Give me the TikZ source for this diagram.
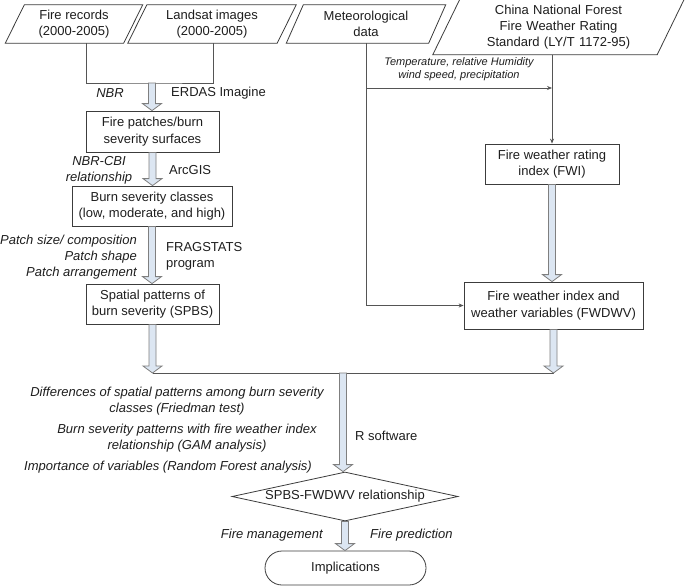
\documentclass[tikz,border=0pt]{standalone}
\usepackage{fontspec}
\setmainfont{Liberation Sans}
\usetikzlibrary{shapes.geometric,arrows.meta,calc}
\definecolor{boxline}{HTML}{3C3C3C}
\definecolor{connline}{HTML}{555555}
\definecolor{afill}{HTML}{DCE6F2}
\definecolor{aline}{HTML}{7F7F7F}
\definecolor{txt}{HTML}{1E1E1E}
\tikzset{
 base/.style={font=\fontsize{13}{16.5}\selectfont, text=txt, align=center, inner sep=0pt},
 box/.style={base, draw=boxline, line width=0.8pt, fill=white},
 para/.style={base},
 lab/.style={base, font=\fontsize{13}{16}\selectfont\itshape},
 plainlab/.style={base, font=\fontsize{13}{16}\selectfont},
 smalllab/.style={base, font=\fontsize{11}{12.5}\selectfont\itshape},
 conn/.style={draw=connline, line width=0.8pt},
 tip/.style={-{Stealth[length=5pt,width=4pt]}},
 barrowstyle/.style={fill=afill, draw=aline, line width=0.8pt, line join=miter},
}
\newcommand\paraline[2]{\draw[boxline, line width=0.8pt] ([xshift=-#2]#1.south west) -- ([xshift=#2]#1.north west) -- ([xshift=#2]#1.north east) -- ([xshift=-#2]#1.south east) -- cycle;}
\newcommand\blockarrow[2]{\path[barrowstyle] let \p1=#1, \p2=#2 in (\x1-3.5pt,\y1) -- (\x1-3.5pt,\y2+7pt) -- (\x1-9.5pt,\y2+7pt) -- (\x1,\y2) -- (\x1+9.5pt,\y2+7pt) -- (\x1+3.5pt,\y2+7pt) -- (\x1+3.5pt,\y1) -- cycle;}
\begin{document}
\begin{tikzpicture}[x=1pt,y=-1pt]
\useasboundingbox (0,0) rectangle (685,586);
\fill[white] (0,0) rectangle (685,586);
% top inputs
\node[para, minimum width=118pt, minimum height=38pt] (fr) at (74,24) {Fire records\\(2000-2005)};
\node[para, minimum width=149pt, minimum height=38pt] (ls) at (212,24) {Landsat images\\(2000-2005)};
\node[para, minimum width=142pt, minimum height=38pt] (met) at (366,24) {Meteorological\\data};
\node[para, font=\fontsize{13}{16}\selectfont, minimum width=224pt, minimum height=55pt, text width=224pt] (cn) at (558.5,27) {China National Forest\\Fire Weather Rating\\Standard (LY/T 1172-95)};
\paraline{fr}{9.5pt}
\paraline{ls}{9.5pt}
\paraline{met}{8.5pt}
\paraline{cn}{13.5pt}
% boxes
\node[box, minimum width=133pt, minimum height=41pt] (fp) at (152.5,131.5) {Fire patches/burn\\severity surfaces};
\node[box, minimum width=160pt, minimum height=40pt] (bc) at (152,206) {Burn severity classes\\(low, moderate, and high)};
\node[box, minimum width=133pt, minimum height=40pt] (sp) at (152.5,304) {Spatial patterns of\\burn severity (SPBS)};
\node[box, minimum width=134pt, minimum height=40pt] (fwi) at (552,164) {Fire weather rating\\index (FWI)};
\node[box, minimum width=179pt, minimum height=47pt] (fw) at (553.5,305.5) {Fire weather index and\\weather variables (FWDWV)};
\node[base, diamond, draw=boxline, line width=0.8pt, fill=white, aspect=4.6, minimum width=226pt, minimum height=49pt] (dm) at (345,496.5) {SPBS-FWDWV relationship};
\node[box, rounded corners=17pt, minimum width=161pt, minimum height=34pt] (im) at (345.5,568) {Implications};
% coordinates
\coordinate (j0) at (152,83);
\coordinate (j1) at (152.5,373);
\coordinate (j2) at (553.5,373);
\coordinate (j3) at (343,373);
\coordinate (yl) at (0,88);
% connectors
\draw[conn] ([xshift=12pt]fr.south) |- (j0) -| ([xshift=1pt]ls.south);
\draw[conn, tip] (met.south) |- (fw.west);
\draw[conn, tip] (met.south |- yl) -- (fwi.north |- yl);
\draw[conn, tip] (fwi.north |- cn.south) -- (fwi.north);
\draw[conn] (j1) -- (j2);
\blockarrow{(j0)}{(fp.north)}
\blockarrow{(fp.south)}{(bc.north)}
\blockarrow{(bc.south)}{(sp.north)}
\blockarrow{(sp.south)}{(j1)}
\blockarrow{(fwi.south)}{(fw.north)}
\blockarrow{(fw.south)}{(j2)}
\blockarrow{(j3)}{(dm.north)}
\blockarrow{(dm.south)}{(im.north)}
% labels
\node[lab, anchor=east] (lnbr) at (124,93) {NBR};
\node[plainlab, anchor=west] (lerdas) at (171,93) {ERDAS Imagine};
\node[lab] (lcbi) at (99,170) {NBR-CBI\\relationship};
\node[plainlab, anchor=west] (larc) at (169,170) {ArcGIS};
\node[lab, anchor=east, align=right] (lpatch) at (137,257) {Patch size/ composition\\Patch shape\\Patch arrangement};
\node[plainlab, anchor=west, align=left] (lfrag) at (166,256) {FRAGSTATS\\program};
\node[smalllab] (ltemp) at (459,69) {Temperature, relative Humidity\\wind speed, precipitation};
\node[lab] (ldiff) at (177,401) {Differences of spatial patterns among burn severity\\classes (Friedman test)};
\node[lab] (lgam) at (187,438) {Burn severity patterns with fire weather index\\relationship (GAM analysis)};
\node[lab] (limp) at (168,467) {Importance of variables (Random Forest analysis)};
\node[plainlab, anchor=west] (lr) at (355,436) {R software};
\node[lab, anchor=east] (lfm) at (323,535) {Fire management};
\node[lab, anchor=west] (lfp) at (370,535) {Fire prediction};
\end{tikzpicture}
\end{document}
